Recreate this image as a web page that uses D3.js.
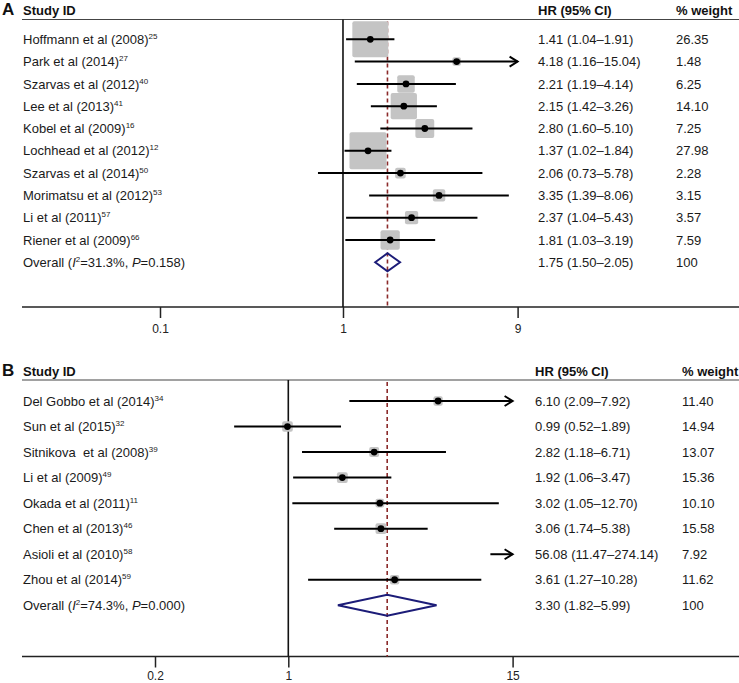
<!DOCTYPE html>
<html><head><meta charset="utf-8">
<script src="https://cdn.jsdelivr.net/npm/d3@7"></script>
<style>
body{margin:0;background:#fff;}
svg{display:block;font-family:"Liberation Sans",Arial,sans-serif;}
text{white-space:pre;}
</style></head>
<body>
<svg id="chart" width="739" height="683"></svg>
<script>
// ---------- Panel A data ----------
const studiesA = ["Hoffmann et al (2008)","Park et al (2014)","Szarvas et al (2012)","Lee et al (2013)","Kobel et al (2009)","Lochhead et al (2012)","Szarvas et al (2014)","Morimatsu et al (2012)","Li et al (2011)","Riener et al (2009)"];
const refsA = ["25","27","40","41","16","12","50","53","57","66"];
const hrA = [1.41,4.18,2.21,2.15,2.80,1.37,2.06,3.35,2.37,1.81];
const lowA = [1.04,1.16,1.19,1.42,1.60,1.02,0.73,1.39,1.04,1.03];
const highA = [1.91,15.04,4.14,3.26,5.10,1.84,5.78,8.06,5.43,3.19];
const weightA = [26.35,1.48,6.25,14.10,7.25,27.98,2.28,3.15,3.57,7.59];
const ciTextA = ["1.41 (1.04–1.91)","4.18 (1.16–15.04)","2.21 (1.19–4.14)","2.15 (1.42–3.26)","2.80 (1.60–5.10)","1.37 (1.02–1.84)","2.06 (0.73–5.78)","3.35 (1.39–8.06)","2.37 (1.04–5.43)","1.81 (1.03–3.19)"];
const overallA = {hr:1.75, low:1.50, high:2.05, i2:"31.3%", p:"0.158", text:"1.75 (1.50–2.05)", weight:"100"};
const ticksA = [0.1, 1, 9];

// ---------- Panel B data ----------
const studiesB = ["Del Gobbo et al (2014)","Sun et al (2015)","Sitnikova  et al (2008)","Li et al (2009)","Okada et al (2011)","Chen et al (2013)","Asioli et al (2010)","Zhou et al (2014)"];
const refsB = ["34","32","39","49","11","46","58","59"];
const hrB = [6.10,0.99,2.82,1.92,3.02,3.06,56.08,3.61];
const lowB = [2.09,0.52,1.18,1.06,1.05,1.74,11.47,1.27];
const highB = [17.9,1.89,6.71,3.47,12.70,5.38,274.14,10.28]; // as drawn (Del Gobbo line runs past 15)
const weightB = [11.40,14.94,13.07,15.36,10.10,15.58,7.92,11.62];
const ciTextB = ["6.10 (2.09–7.92)","0.99 (0.52–1.89)","2.82 (1.18–6.71)","1.92 (1.06–3.47)","3.02 (1.05–12.70)","3.06 (1.74–5.38)","56.08 (11.47–274.14)","3.61 (1.27–10.28)"];
const overallB = {hr:3.30, low:1.82, high:5.99, i2:"74.3%", p:"0.000", text:"3.30 (1.82–5.99)", weight:"100"};
const ticksB = [0.2, 1, 15];

const svg = d3.select("#chart");

function panel(cfg){
  const g = svg.append("g");
  const n = cfg.studies.length;
  const x = d3.scaleLog().domain(cfg.domain).range([cfg.x0, cfg.x1]);
  const y = d3.scalePoint().domain(d3.range(n+1)).range([cfg.yFirst, cfg.yLast]);
  const xmin = cfg.domain[0], xmax = cfg.domain[1];

  // panel letter and headers
  g.append("text").attr("x",2).attr("y",cfg.headY+5).attr("font-size",17).attr("font-weight","bold").attr("fill","#111").text(cfg.letter);
  g.append("text").attr("x",23).attr("y",cfg.headY+4.6).attr("font-size",13).attr("font-weight","bold").attr("fill","#111").text("Study ID");
  g.append("text").attr("x",cfg.colHR).attr("y",cfg.headY+4.6).attr("font-size",13).attr("font-weight","bold").attr("fill","#111").text("HR (95% CI)");
  g.append("text").attr("x",cfg.colW).attr("y",cfg.headY+4.6).attr("font-size",13).attr("font-weight","bold").attr("fill","#111").text("% weight");
  g.append("line").attr("x1",22).attr("x2",739).attr("y1",cfg.lineY).attr("y2",cfg.lineY).attr("stroke","#444").attr("stroke-width",1.2);

  // axis
  g.append("line").attr("x1",22).attr("x2",739).attr("y1",cfg.axisY).attr("y2",cfg.axisY).attr("stroke","#222").attr("stroke-width",1.5);
  const ax = g.append("g").attr("transform",`translate(0,${cfg.axisY})`)
    .call(d3.axisBottom(x).tickValues(cfg.ticks).tickSize(11).tickFormat(d=>String(d)));
  ax.select(".domain").remove();
  ax.selectAll(".tick line").attr("stroke","#222").attr("stroke-width",1.5);
  ax.selectAll(".tick text").attr("font-size",12).attr("fill","#222").attr("dy",null).attr("y",cfg.tickLabelDy)
    .attr("font-family","'Liberation Sans',Arial,sans-serif");

  // null line at 1
  g.append("line").attr("x1",x(1)).attr("x2",x(1)).attr("y1",cfg.lineY).attr("y2",cfg.axisY).attr("stroke","#111").attr("stroke-width",1.6);
  // overall dashed line
  g.append("line").attr("x1",x(cfg.overall.hr)).attr("x2",x(cfg.overall.hr)).attr("y1",cfg.lineY+2).attr("y2",cfg.axisY)
    .attr("stroke","#8b2a2a").attr("stroke-width",1.6).attr("stroke-dasharray","4,3");

  const idx = d3.range(n);
  // weight squares
  g.selectAll("rect.w").data(idx.filter(i=>cfg.hr[i]>=xmin && cfg.hr[i]<=xmax)).join("rect")
    .attr("x",i=>x(cfg.hr[i]) - cfg.sq*Math.sqrt(cfg.weight[i])/2)
    .attr("y",i=>y(i) - cfg.sq*Math.sqrt(cfg.weight[i])/2)
    .attr("width",i=>cfg.sq*Math.sqrt(cfg.weight[i]))
    .attr("height",i=>cfg.sq*Math.sqrt(cfg.weight[i]))
    .attr("rx",2).attr("fill","#c4c4c4");
  // CI lines
  g.selectAll("line.ci").data(idx).join("line")
    .attr("x1",i=>x(Math.max(cfg.low[i],xmin))).attr("x2",i=>x(Math.min(cfg.high[i],xmax)))
    .attr("y1",i=>y(i)).attr("y2",i=>y(i)).attr("stroke","#000").attr("stroke-width",2);
  // arrows
  g.selectAll("path.arr").data(idx.filter(i=>cfg.high[i]>xmax)).join("path")
    .attr("d",i=>{const xe=x(xmax), yy=y(i); return `M${xe-8},${yy-5}L${xe},${yy}L${xe-8},${yy+5}`;})
    .attr("fill","none").attr("stroke","#000").attr("stroke-width",2);
  // points
  g.selectAll("circle.pt").data(idx.filter(i=>cfg.hr[i]>=xmin && cfg.hr[i]<=xmax)).join("circle")
    .attr("cx",i=>x(cfg.hr[i])).attr("cy",i=>y(i)).attr("r",3.4).attr("fill","#000");
  // overall diamond
  const oy = y(n);
  g.append("path").attr("d",`M${x(cfg.overall.low)},${oy}L${x(cfg.overall.hr)},${oy-cfg.dh}L${x(cfg.overall.high)},${oy}L${x(cfg.overall.hr)},${oy+cfg.dh}Z`)
    .attr("fill","none").attr("stroke","#1c1c78").attr("stroke-width",2);

  // text rows
  idx.forEach(i=>{
    const t = g.append("text").attr("x",23).attr("y",y(i)+4.6).attr("font-size",13).attr("fill","#1a1a1a");
    t.append("tspan").text(cfg.studies[i]);
    t.append("tspan").attr("font-size",8).attr("dy",-5).text(cfg.refs[i]);
    g.append("text").attr("x",cfg.colHR).attr("y",y(i)+4.6).attr("font-size",13).attr("fill","#1a1a1a").text(cfg.ciText[i]);
    g.append("text").attr("x",cfg.colW).attr("y",y(i)+4.6).attr("font-size",13).attr("fill","#1a1a1a").text(cfg.weight[i].toFixed(2));
  });
  const ot = g.append("text").attr("x",23).attr("y",oy+4.6).attr("font-size",13).attr("fill","#1a1a1a");
  ot.append("tspan").text("Overall (");
  ot.append("tspan").attr("font-style","italic").text("I");
  ot.append("tspan").attr("font-size",8).attr("dy",-5).text("2");
  ot.append("tspan").attr("dy",5).text("="+cfg.overall.i2+", ");
  ot.append("tspan").attr("font-style","italic").text("P");
  ot.append("tspan").text("="+cfg.overall.p+")");
  g.append("text").attr("x",cfg.colHR).attr("y",oy+4.6).attr("font-size",13).attr("fill","#1a1a1a").text(cfg.overall.text);
  g.append("text").attr("x",cfg.colW).attr("y",oy+4.6).attr("font-size",13).attr("fill","#1a1a1a").text(cfg.overall.weight);
}

panel({letter:"A", studies:studiesA, refs:refsA, hr:hrA, low:lowA, high:highA, weight:weightA, ciText:ciTextA, overall:overallA,
  ticks:ticksA, domain:[0.1,9], x0:160, x1:517.6, yFirst:39.3, yLast:262.3, headY:10, lineY:19.5, axisY:307,
  tickLabelDy:26, colHR:538, colW:676, sq:7.0, dh:9});
panel({letter:"B", studies:studiesB, refs:refsB, hr:hrB, low:lowB, high:highB, weight:weightB, ciText:ciTextB, overall:overallB,
  ticks:ticksB, domain:[0.2,15], x0:155, x1:512.6, yFirst:401, yLast:605.3, headY:371, lineY:380, axisY:656.5,
  tickLabelDy:23, colHR:535, colW:682, sq:2.75, dh:10.5});
</script>
</body></html>
